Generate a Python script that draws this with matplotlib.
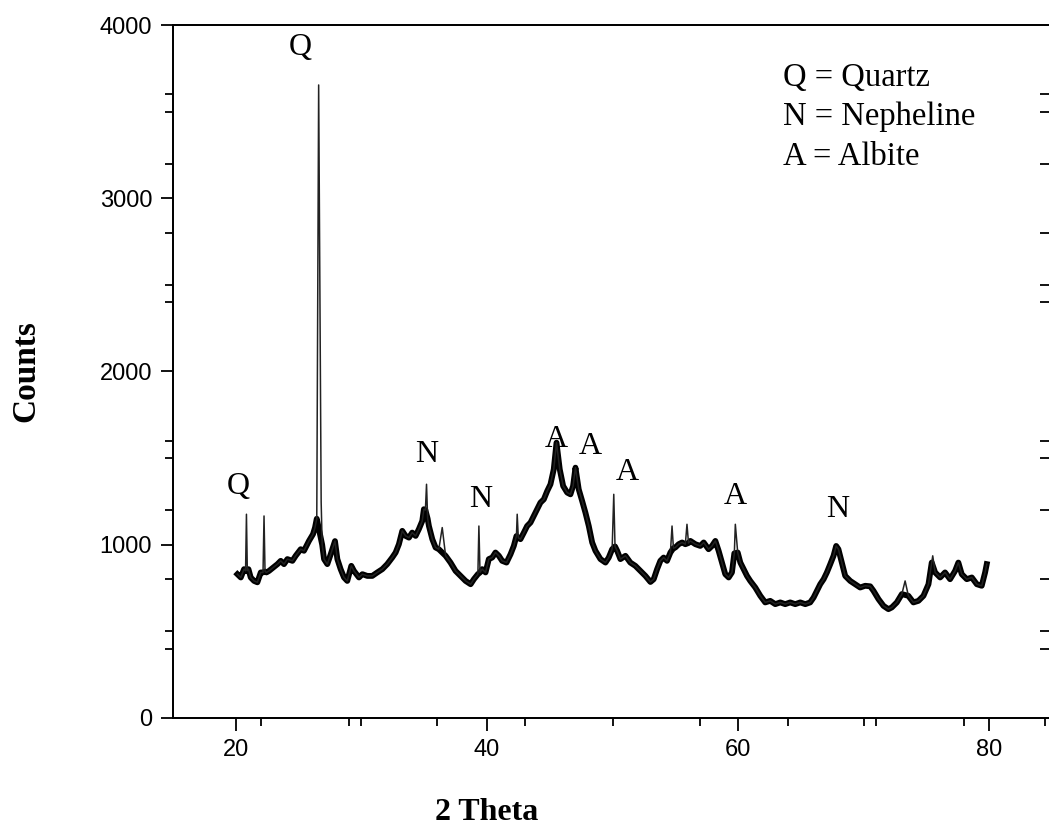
import matplotlib.pyplot as plt
import numpy as np

# XRD pattern (2 theta in degrees, counts)
theta = [20.13, 20.40, 20.66, 20.78, 20.85, 20.92, 21.01, 21.19, 21.46, 21.72,
         21.99, 22.17, 22.25, 22.33, 22.44, 22.65, 22.97, 23.32, 23.58, 23.84,
         24.11, 24.51, 24.77, 25.17, 25.43, 25.83, 26.15, 26.31, 26.45, 26.60,
         26.80, 26.88, 27.03, 27.29, 27.56, 27.90, 28.09, 28.35, 28.62, 28.88,
         29.20, 29.41, 29.81, 30.08, 30.47, 30.87, 31.27, 31.67, 32.06, 32.46,
         32.73, 32.99, 33.26, 33.52, 33.79, 34.05, 34.32, 34.58, 34.85, 34.98,
         35.10, 35.19, 35.28, 35.38, 35.65, 35.91, 36.17, 36.44, 36.71, 37.10,
         37.50, 37.90, 38.30, 38.70, 38.96, 39.28, 39.36, 39.45, 39.62, 39.89,
         40.15, 40.42, 40.68, 40.95, 41.21, 41.56, 41.88, 42.14, 42.35, 42.41,
         42.50, 42.67, 42.94, 43.20, 43.47, 43.73, 44.00, 44.26, 44.53, 44.80,
         45.06, 45.32, 45.54, 45.80, 46.07, 46.39, 46.65, 46.86, 47.05, 47.31,
         47.58, 47.84, 48.11, 48.38, 48.64, 49.04, 49.44, 49.70, 49.97, 50.10,
         50.20, 50.37, 50.63, 51.03, 51.42, 51.82, 52.22, 52.62, 53.02, 53.28,
         53.55, 53.81, 54.07, 54.34, 54.61, 54.74, 54.85, 55.00, 55.27, 55.54,
         55.80, 55.93, 56.05, 56.20, 56.60, 56.99, 57.26, 57.65, 57.92, 58.19,
         58.45, 58.72, 58.98, 59.25, 59.51, 59.70, 59.78, 59.97, 60.18, 60.44,
         60.71, 60.97, 61.37, 61.77, 62.16, 62.56, 62.96, 63.36, 63.75, 64.15,
         64.55, 64.95, 65.35, 65.74, 66.01, 66.28, 66.54, 66.81, 67.07, 67.34,
         67.60, 67.81, 67.99, 68.26, 68.53, 68.93, 69.32, 69.72, 70.12, 70.52,
         70.78, 71.18, 71.58, 71.97, 72.24, 72.64, 73.04, 73.30, 73.56, 73.96,
         74.36, 74.76, 75.16, 75.42, 75.50, 75.69, 76.09, 76.48, 76.88, 77.28,
         77.54, 77.81, 78.21, 78.61, 79.01, 79.40, 79.67, 79.80]
counts = [830, 811, 859, 850, 1176, 850, 859, 811, 791, 783,
          840, 840, 1166, 845, 840, 849, 868, 888, 907, 888,
          917, 907, 936, 974, 965, 1022, 1061, 1099, 1150, 3654,
          1245, 1000, 917, 888, 945, 1021, 917, 859, 811, 791,
          878, 849, 811, 830, 820, 820, 840, 859, 888, 926,
          955, 1003, 1080, 1051, 1041, 1070, 1051, 1090, 1137, 1205,
          1200, 1349, 1150, 1108, 1032, 984, 974, 1099, 936, 897,
          849, 820, 791, 772, 801, 830, 1108, 840, 859, 840,
          917, 926, 955, 936, 907, 897, 945, 993, 1050, 1176,
          1040, 1032, 1070, 1108, 1128, 1166, 1205, 1243, 1262, 1310,
          1349, 1435, 1589, 1435, 1339, 1301, 1291, 1339, 1445, 1320,
          1253, 1186, 1108, 1013, 965, 917, 897, 926, 974, 1291,
          990, 965, 917, 936, 897, 878, 849, 820, 785, 801,
          859, 907, 926, 907, 955, 1108, 980, 984, 1003, 1013,
          1003, 1118, 1010, 1022, 1003, 993, 1013, 974, 993, 1022,
          965, 897, 830, 811, 840, 950, 1118, 955, 897, 859,
          820, 791, 753, 705, 667, 676, 657, 667, 657, 667,
          657, 667, 657, 667, 695, 734, 772, 801, 840, 888,
          936, 993, 974, 897, 820, 791, 772, 753, 763, 760,
          734, 686, 647, 628, 638, 667, 715, 791, 705, 667,
          676, 705, 772, 897, 936, 840, 811, 840, 801, 849,
          897, 830, 801, 811, 772, 763, 840, 888]

# narrow reflections, drawn thin
spikes = [20.85, 22.25, 26.60, 26.80, 35.19, 36.44, 39.36, 42.41,
          50.10, 54.74, 55.93, 59.78, 73.30, 75.50]

# peak labels
peak_text = ["Q", "Q", "N", "N", "A", "A", "A", "A", "N"]
peak_x = [20.16, 25.17, 35.2, 39.49, 45.54, 48.24, 51.19, 59.78, 67.97]
peak_y = [1337, 3868, 1522, 1262, 1608, 1568, 1418, 1280, 1205]

key_lines = ["Q = Quartz", "N = Nepheline", "A = Albite"]
key_y = [3695, 3470, 3239]

y_minor = [400, 500, 800, 1200, 1500, 1600, 2400, 2500, 2800, 3200, 3500, 3600]
x_minor = [22, 29, 30, 36, 43, 50, 57, 64, 70, 71, 78, 84.4]

fig = plt.figure(figsize=(10.49, 8.26), dpi=100)
ax = fig.add_axes([0.1649, 0.1308, 0.838, 0.8389])

th = np.array(theta)
ct = np.array(counts)
keep = ~np.isin(th, spikes)
ax.plot(th[keep], ct[keep], color="black", lw=4.2, solid_joinstyle="round")
ax.plot(th, ct, color="#222222", lw=1.1)

for t, x, y in zip(peak_text, peak_x, peak_y):
    ax.text(x, y, t, ha="center", va="center", fontsize=23,
            family="Liberation Serif")
for t, y in zip(key_lines, key_y):
    ax.text(63.6, y, t, ha="left", va="center", fontsize=23.5,
            family="Liberation Serif")

ax.set_xlim(15, 85)
ax.set_ylim(0, 4000)
ax.set_xticks([20, 40, 60, 80])
ax.set_xticks(x_minor, minor=True)
ax.set_yticks([0, 1000, 2000, 3000, 4000])
ax.set_yticks(y_minor, minor=True)
ax.tick_params(which="major", length=9, width=1.3, direction="out",
               labelsize=17, pad=6)
ax.tick_params(which="minor", length=6, width=1.3, direction="out")
for lab in ax.get_xticklabels() + ax.get_yticklabels():
    lab.set_family("Liberation Sans")

# right side ticks pointing in
ay = ax.twinx()
ay.set_ylim(0, 4000)
ay.set_yticks(y_minor)
ay.tick_params(direction="in", length=9, width=1.3, labelright=False)

for a in (ax, ay):
    for s in a.spines.values():
        s.set_linewidth(1.3)

ax.set_xlabel("2 Theta", fontsize=23, fontweight="bold",
              family="Liberation Serif")
ax.xaxis.set_label_coords(0.357, -0.115)
ax.set_ylabel("Counts", fontsize=24, fontweight="bold",
              family="Liberation Serif", labelpad=42)

fig.savefig("out.png", dpi=100)
